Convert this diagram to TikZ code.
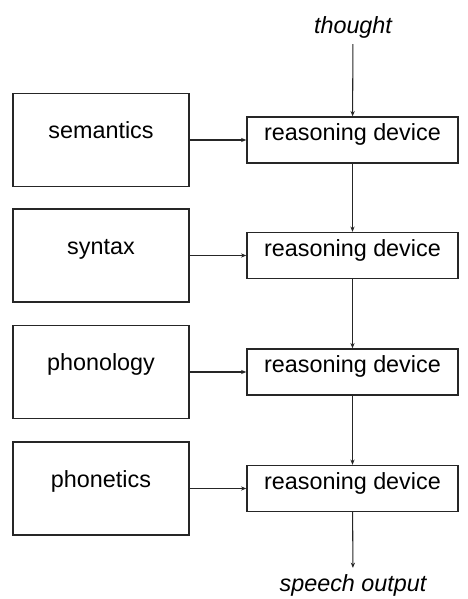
\documentclass[tikz,border=0pt]{standalone}
\usepackage{fontspec}
\setmainfont{Liberation Sans}
\usetikzlibrary{arrows.meta,positioning}

\tikzset{
  level/.style={draw=black!85,line width=0.8pt,minimum width=3.52cm,minimum height=1.86cm,
                inner sep=0pt,text height=0.35cm,text depth=0.39cm,font=\fontsize{13.3}{16}\selectfont},
  device/.style={draw=black!85,line width=0.8pt,minimum width=4.22cm,minimum height=0.92cm,
                 inner sep=0pt,text height=0.35cm,text depth=0.31cm,font=\fontsize{13.3}{16}\selectfont},
  flow/.style={draw=black!85,line width=0.6pt,-{Stealth[length=3pt,width=2.4pt]}}
}

\begin{document}
\begin{tikzpicture}[auto]

        \useasboundingbox (0,0) rectangle (9.34,11.98);

        % input and output of the chain
        \node (thought) at (7.06,11.44) {\fontsize{13.3}{16}\selectfont\itshape thought};
        \node (speech) at (7.06,0.28) {\fontsize{13.3}{16}\selectfont\itshape speech output};

        % reasoning devices
        \node[device] (rd1) at (7.05,9.18) {reasoning device};
        \node[device] (rd2) at (7.05,6.87) {reasoning device};
        \node[device] (rd3) at (7.05,4.54) {reasoning device};
        \node[device] (rd4) at (7.05,2.21) {reasoning device};

        % knowledge levels
        \node[level] (sem) at (2.02,9.18) {semantics};
        \node[level] (syn) at (2.02,6.87) {syntax};
        \node[level] (pho) at (2.02,4.54) {phonology};
        \node[level] (phn) at (2.02,2.21) {phonetics};


        \draw[flow] (thought) -- (rd1);
        \draw[flow] (rd1) -- (rd2);
        \draw[flow] (rd2) -- (rd3);
        \draw[flow] (rd3) -- (rd4);
        \draw[flow] (rd4) -- (speech);

        \draw[flow] (sem) -- (rd1);
        \draw[flow] (syn) -- (rd2);
        \draw[flow] (pho) -- (rd3);
        \draw[flow] (phn) -- (rd4);
    \end{tikzpicture}
\end{document}
